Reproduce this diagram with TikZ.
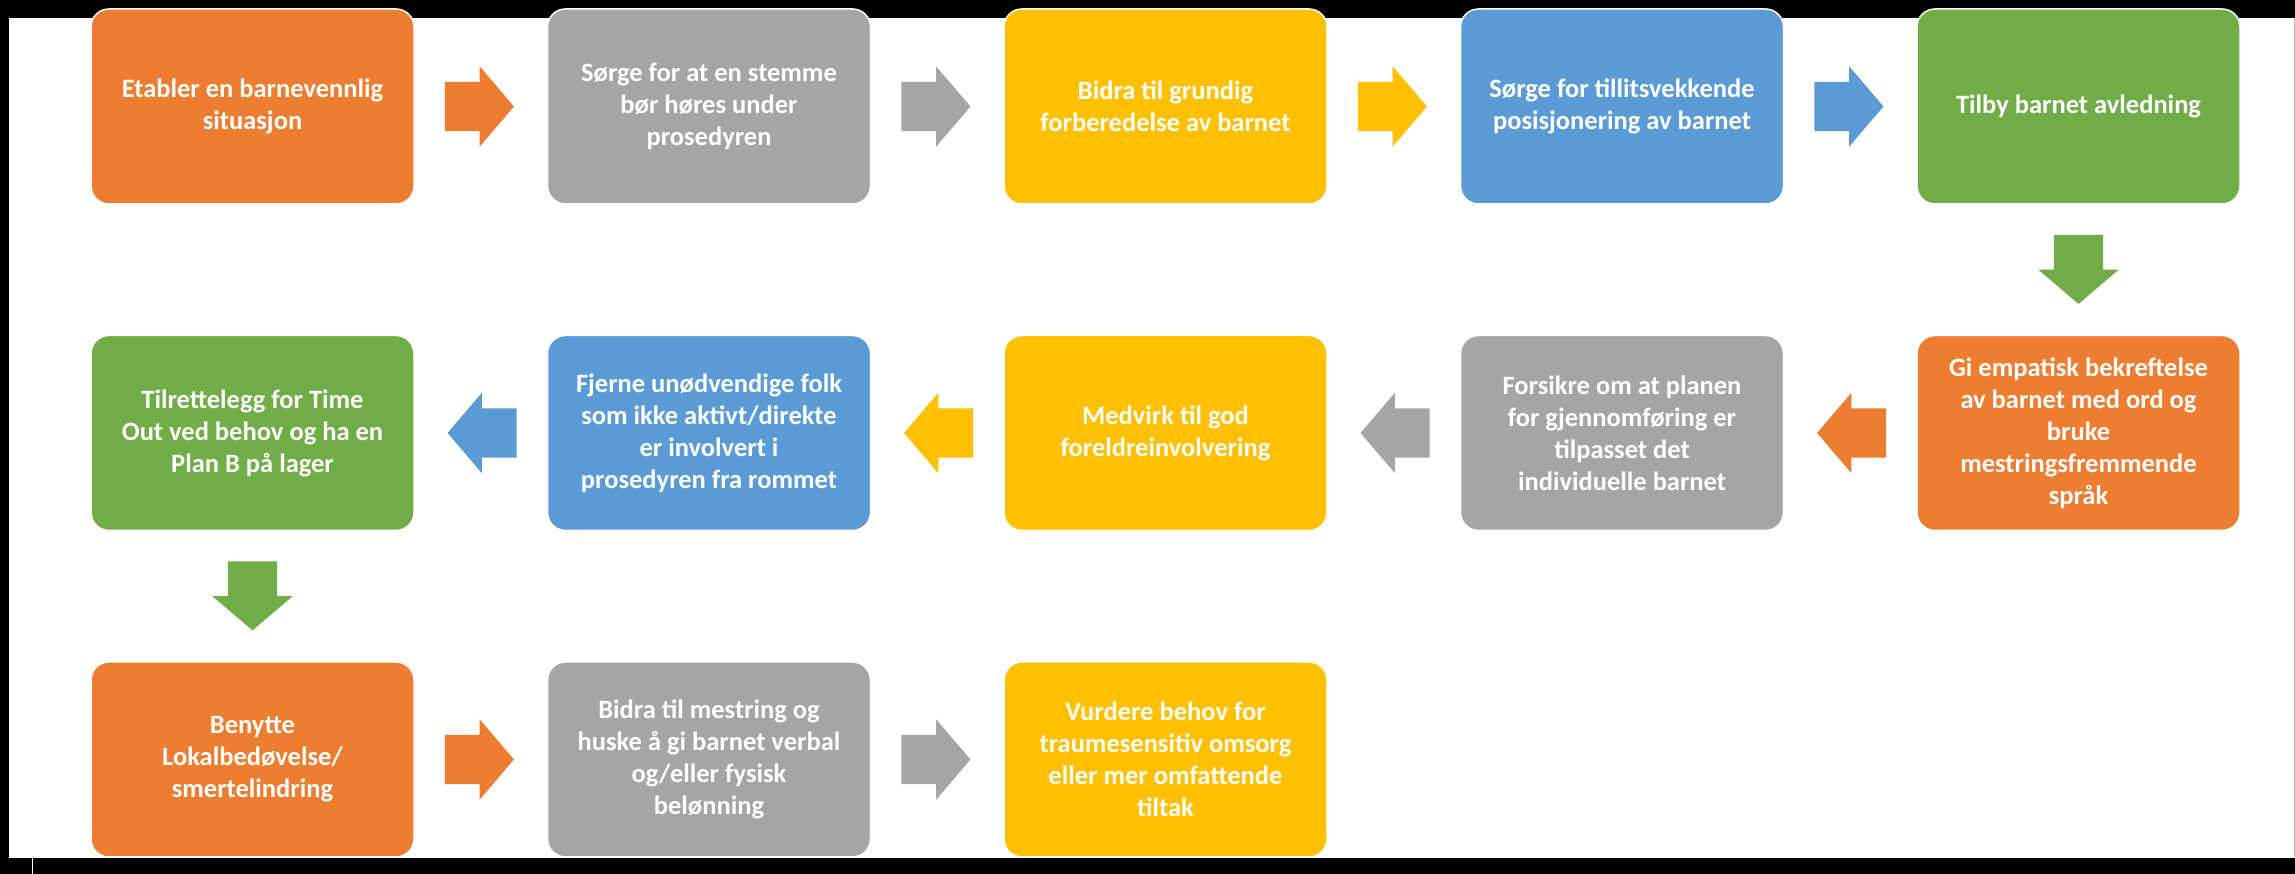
\documentclass[tikz,border=0pt]{standalone}
\usepackage{fontspec}
\setmainfont{Carlito}
\usetikzlibrary{positioning,shapes.arrows}

\definecolor{corange}{HTML}{ED7D31}
\definecolor{cgrey}{HTML}{A5A5A5}
\definecolor{cyellow}{HTML}{FFC000}
\definecolor{cblue}{HTML}{5B9BD5}
\definecolor{cgreen}{HTML}{70AD47}
\newcommand{\boxfont}{\fontsize{26.5}{32}\selectfont\bfseries}

\begin{document}
\begin{tikzpicture}[x=1pt,y=1pt,node distance=326.5pt and 456.5pt,on grid,
  box/.style={rectangle,rounded corners=18pt,draw=white,line width=1.5pt,
    minimum width=323pt,minimum height=195pt,inner sep=0pt,
    align=center,text=white,font=\boxfont},
  flow/.style={single arrow,minimum height=69pt,minimum width=80pt,
    single arrow head extend=15.5pt,single arrow tip angle=99,
    inner xsep=0pt,inner ysep=24.5pt},
  flow left/.style={flow,shape border rotate=180},
  flow down/.style={flow,shape border rotate=270,inner xsep=24.5pt,inner ysep=0pt}]
\useasboundingbox (0,0) rectangle (2295,874);
\fill[black] (0,0) rectangle (2295,874);
\fill[white] (9,16) rectangle (2294,856);
\draw[black!30,line width=1pt] (2294,16) -- (2294,856);
\draw[white,line width=1.5pt] (32.5,0) -- (32.5,16);

\node[box,fill=corange] (s_1) at (252.5,767.5) {Etabler en barnevennlig\\situasjon};
\node[box,fill=cgrey] (s_2) [right=of s_1] {Sørge for at en stemme\\bør høres under\\prosedyren};
\node[box,fill=cyellow] (s_3) [right=of s_2] {Bidra til grundig\\forberedelse av barnet};
\node[box,fill=cblue] (s_4) [right=of s_3] {Sørge for tillitsvekkende\\posisjonering av barnet};
\node[box,fill=cgreen] (s_5) [right=of s_4] {Tilby barnet avledning};
\node[box,fill=corange] (s_6) [below=of s_5] {Gi empatisk bekreftelse\\av barnet med ord og\\bruke\\mestringsfremmende\\språk};
\node[box,fill=cgrey] (s_7) [left=of s_6] {Forsikre om at planen\\for gjennomføring er\\tilpasset det\\individuelle barnet};
\node[box,fill=cyellow] (s_8) [left=of s_7] {Medvirk til god\\foreldreinvolvering};
\node[box,fill=cblue] (s_9) [left=of s_8] {Fjerne unødvendige folk\\som ikke aktivt/direkte\\er involvert i\\prosedyren fra rommet};
\node[box,fill=cgreen] (s_10) [left=of s_9] {Tilrettelegg for Time\\Out ved behov og ha en\\Plan B på lager};
\node[box,fill=corange] (s_11) [below=of s_10] {Benytte\\Lokalbedøvelse/\\smertelindring};
\node[box,fill=cgrey] (s_12) [right=of s_11] {Bidra til mestring og\\huske å gi barnet verbal\\og/eller fysisk\\belønning};
\node[box,fill=cyellow] (s_13) [right=of s_12] {Vurdere behov for\\traumesensitiv omsorg\\eller mer omfattende\\tiltak};

\node[flow,fill=corange,right=30pt of s_1.east,anchor=tail] (a_1) {};
\node[flow,fill=cgrey,right=30pt of s_2.east,anchor=tail] (a_2) {};
\node[flow,fill=cyellow,right=30pt of s_3.east,anchor=tail] (a_3) {};
\node[flow,fill=cblue,right=30pt of s_4.east,anchor=tail] (a_4) {};
\node[flow down,fill=cgreen,below=30pt of s_5.south,anchor=tail] (a_5) {};
\node[flow left,fill=corange,left=30pt of s_6.west,anchor=tail] (a_6) {};
\node[flow left,fill=cgrey,left=30pt of s_7.west,anchor=tail] (a_7) {};
\node[flow left,fill=cyellow,left=30pt of s_8.west,anchor=tail] (a_8) {};
\node[flow left,fill=cblue,left=30pt of s_9.west,anchor=tail] (a_9) {};
\node[flow down,fill=cgreen,below=30pt of s_10.south,anchor=tail] (a_10) {};
\node[flow,fill=corange,right=30pt of s_11.east,anchor=tail] (a_11) {};
\node[flow,fill=cgrey,right=30pt of s_12.east,anchor=tail] (a_12) {};
\end{tikzpicture}
\end{document}
